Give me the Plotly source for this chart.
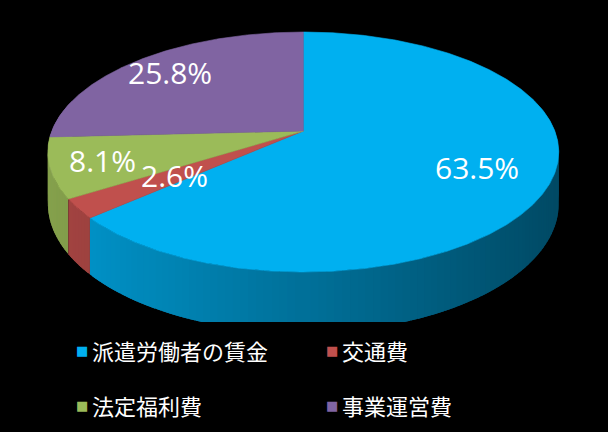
import numpy as np
import plotly.graph_objects as go

# ---------------- data ----------------
categories = ["派遣労働者の賃金", "交通費", "法定福利費", "事業運営費"]
shares = [63.5, 2.6, 8.1, 25.8]
value_labels = ["63.5%", "2.6%", "8.1%", "25.8%"]
colors = ["#00B0F0", "#C0504D", "#9BBB59", "#8064A2"]

# ---------------- geometry / style ----------------
W, H = 608, 432
CX, CY = 303.3, 131.0      # projected pie centre (pixels)
RA, RB = 251.5, 116.3      # projected radii
KP = 0.175                 # perspective strength
DEPTH = 50.0               # wall height
CLIP = 322                 # plot area bottom (pixels)
LABEL_R = [0.72, 0.60, 0.80, 0.80]


def proj(theta_deg, r=1.0, z=0.0):
    t = np.radians(theta_deg)
    u = r * np.sin(t)
    v = r * np.cos(t)
    w = 1 + KP * v
    return CX + RA * u / w, CY - RB * v / w + DEPTH * z / w


def hex_rgb(h):
    h = h.lstrip("#")
    return [int(h[i:i + 2], 16) for i in (0, 2, 4)]


def shade(hexcol, x):
    f = 0.86 - 0.44 * (x - 48) / 511.0
    f = max(0.35, min(0.9, f))
    r, g, b = hex_rgb(hexcol)
    return "rgb(%d,%d,%d)" % (r * f, g * f, b * f)


total = float(sum(shares))
bounds = np.concatenate([[0.0], np.cumsum(shares) / total * 360.0])

fig = go.Figure()

# ---- side walls (drawn first, back to front, small overlaps to hide seams) ----
walls = []
for i, col in enumerate(colors):
    a0, a1 = bounds[i], bounds[i + 1]
    n = max(2, int(np.ceil((a1 - a0) / 1.5)))
    step = (a1 - a0) / n
    ts = np.linspace(a0, a1, n + 1)
    for t1, t2 in zip(ts[:-1], ts[1:]):
        tm = 0.5 * (t1 + t2)
        if np.cos(np.radians(tm)) > 0.25:
            continue
        e1 = max(a0, t1 - 0.45 * step)
        e2 = min(a1, t2 + 0.45 * step)
        tt = np.linspace(e1, e2, 4)
        xt, yt = proj(tt)
        xb, yb = proj(tt[::-1], z=1)
        xs = np.concatenate([xt, xb, xt[:1]])
        ys = np.concatenate([yt, yb, yt[:1]])
        c = shade(col, float(np.mean(xt)))
        walls.append((np.cos(np.radians(tm)), xs, ys, c))

walls.sort(key=lambda w: -w[0])
for _, xs, ys, c in walls:
    fig.add_trace(go.Scatter(x=xs, y=ys, mode="lines", fill="toself", fillcolor=c,
                             line=dict(width=0), hoverinfo="skip",
                             showlegend=False))

# ---- top faces ----
for i, col in enumerate(colors):
    a0, a1 = bounds[i], bounds[i + 1]
    ts = np.linspace(a0, a1, max(3, int((a1 - a0) / 0.5) + 1))
    xs, ys = proj(ts)
    xs = np.concatenate([[CX], xs, [CX]])
    ys = np.concatenate([[CY], ys, [CY]])
    fig.add_trace(go.Scatter(x=xs, y=ys, mode="lines", fill="toself", fillcolor=col,
                             line=dict(color=col, width=0.6), hoverinfo="skip",
                             name=categories[i], showlegend=False))

# ---- data labels ----
for i, lab in enumerate(value_labels):
    mid = 0.5 * (bounds[i] + bounds[i + 1])
    lx, ly = proj(mid, r=LABEL_R[i])
    fig.add_annotation(x=lx, y=ly, xref="x", yref="y", text=lab, showarrow=False,
                       font=dict(family="Open Sans", size=30, color="white"))

# ---- legend (text annotations) ----
leg_x = [74, 324, 74, 324]
leg_y = [350, 350, 405, 405]
for i, name in enumerate(categories):
    fig.add_annotation(x=leg_x[i] / W, y=1 - leg_y[i] / H, xref="paper", yref="paper",
                       text="■", showarrow=False, xanchor="left", yanchor="middle",
                       font=dict(family="DejaVu Sans", size=13, color=colors[i]))
    fig.add_annotation(x=(leg_x[i] + 16) / W, y=1 - leg_y[i] / H, xref="paper", yref="paper",
                       text=name, showarrow=False, xanchor="left", yanchor="middle",
                       font=dict(family="Noto Sans CJK JP", size=22, color="white"))

fig.update_layout(
    width=W, height=H, autosize=False,
    margin=dict(l=0, r=0, t=0, b=0),
    paper_bgcolor="black", plot_bgcolor="black",
    showlegend=False,
    xaxis=dict(range=[0, W], domain=[0, 1], visible=False, fixedrange=True),
    yaxis=dict(range=[CLIP, 0], domain=[1 - CLIP / H, 1], visible=False, fixedrange=True),
)

fig.write_html("out.html")
